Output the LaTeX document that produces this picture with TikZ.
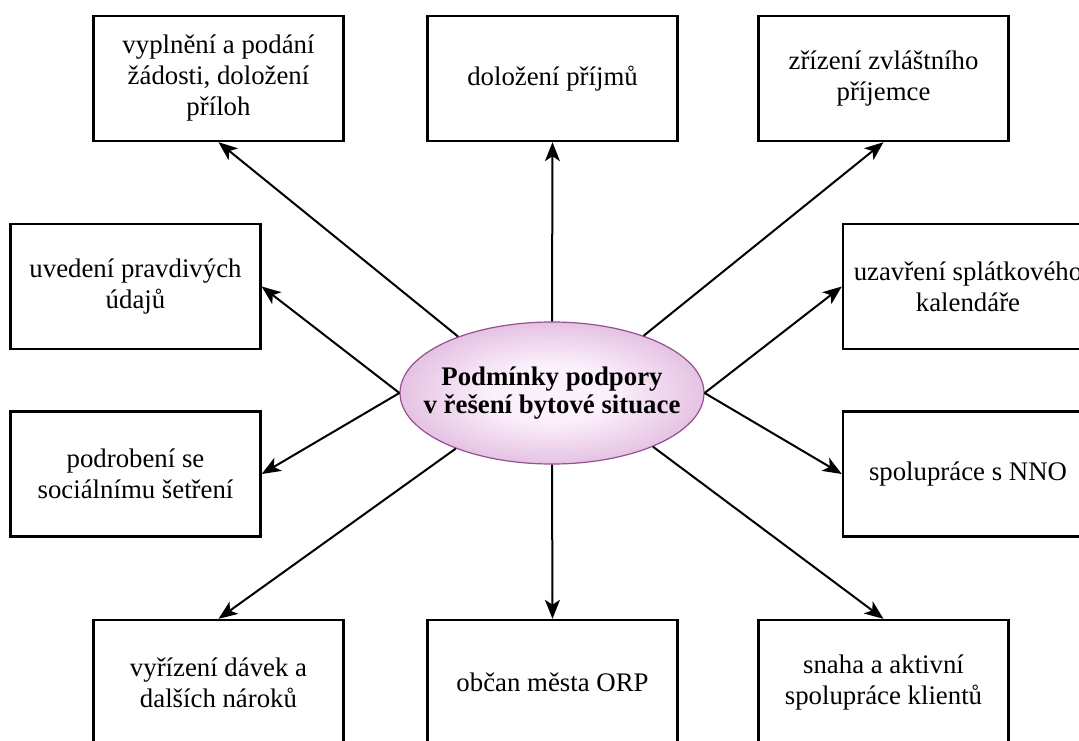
\documentclass[tikz,border=0pt]{standalone}
\usepackage{fontspec}
\setmainfont{Liberation Serif}
\usetikzlibrary{shapes.geometric,arrows.meta}
\definecolor{pinkin}{RGB}{252,240,252}
\definecolor{pinkout}{RGB}{190,118,184}
\definecolor{pinkborder}{RGB}{150,80,142}
\pgfdeclareradialshading{pinkball}{\pgfpoint{0bp}{0bp}}{color(0bp)=(pinkin); color(10bp)=(pinkin); color(50bp)=(pinkout)}
\tikzset{
  box/.style={draw=black, line width=2.4pt, minimum width=250pt, minimum height=125pt,
    inner sep=0pt, align=center, font=\fontsize{26.8}{31}\selectfont},
  hub/.style={ellipse, draw=pinkborder, line width=1.2pt, shading=pinkball,
    minimum width=304pt, minimum height=142pt, inner sep=0pt},
  hubtext/.style={align=center, font=\fontsize{26.8}{28}\selectfont\bfseries},
  conn/.style={line width=2pt, -{Stealth[length=19pt,width=15pt,inset=5pt]}}
}
\begin{document}
\begin{tikzpicture}[x=1pt,y=-1pt]
\useasboundingbox (0,0) rectangle (1079,740);
\clip (0,0) rectangle (1079,740);
\fill[white] (0,0) rectangle (1079,740);

\node[hub] (c) at (552,393) {};
\node[hubtext] (ct) at (552,393.5) {Podmínky podpory\\v řešení bytové situace};

\node[box] (tl) at (218.5,78.5) {vyplnění a podání\\žádosti, doložení\\příloh};
\node[box] (tm) at (552.5,78.5) {doložení příjmů};
\node[box] (tr) at (883.5,78.5) {zřízení zvláštního\\příjemce};
\node[box] (l1) at (135.5,286.5) {uvedení pravdivých\\údajů};
\node[box] (l2) at (135.5,474) {podrobení se\\sociálnímu šetření};
\node[box] (r1) at (968,286.5) {uzavření splátkového\\kalendáře};
\node[box] (r2) at (968,474) {spolupráce s NNO};
\node[box] (bl) at (218.5,682.5) {vyřízení dávek a\\dalších nároků};
\node[box] (bm) at (552.5,682.5) {občan města ORP};
\node[box] (br) at (883.5,682.5) {snaha a aktivní\\spolupráce klientů};

\draw[conn] (c.149.5) -- (tl.south);
\draw[conn] (c.north) -- (tm.south);
\draw[conn] (c.32) -- (tr.south);
\draw[conn] (c.west) -- (l1.east);
\draw[conn] (c.west) -- (l2.east);
\draw[conn] (c.east) -- (r1.west);
\draw[conn] (c.east) -- (r2.west);
\draw[conn] (c.210) -- (bl.north);
\draw[conn] (c.south) -- (bm.north);
\draw[conn] (c.332) -- (br.north);
\end{tikzpicture}
\end{document}
